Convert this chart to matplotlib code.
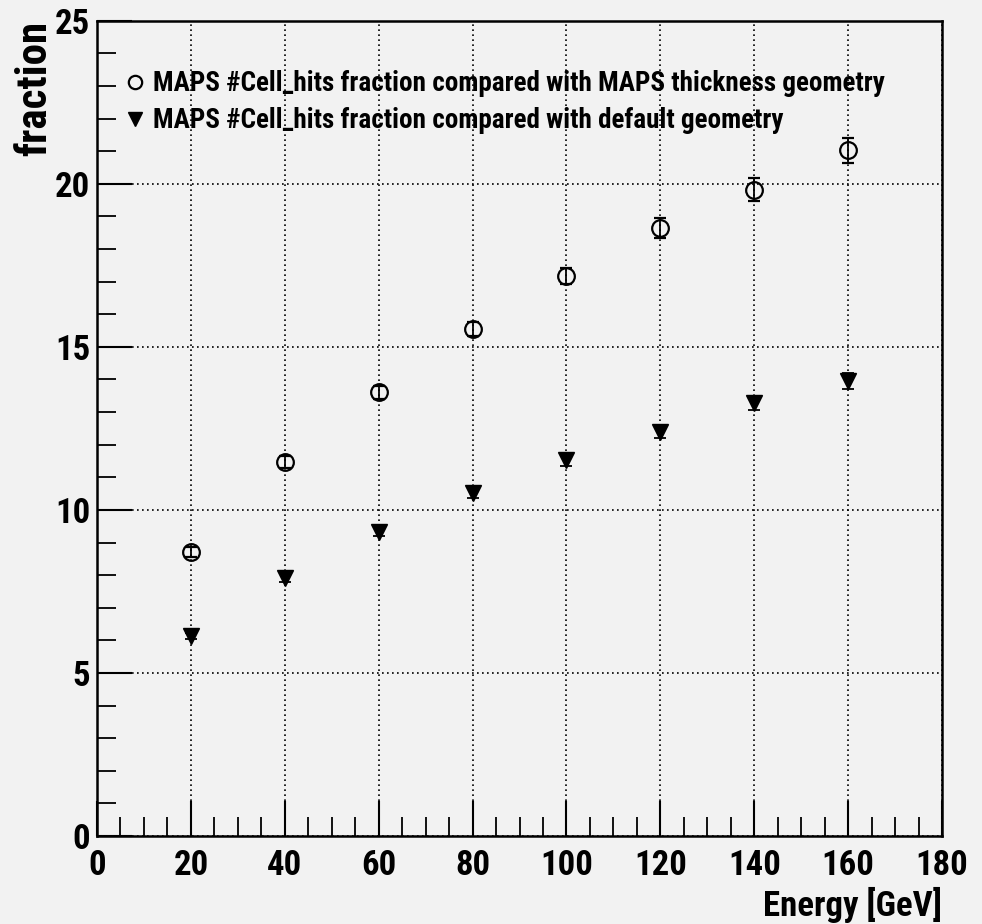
import matplotlib
matplotlib.use("Agg")
import matplotlib.pyplot as plt
from matplotlib.ticker import MultipleLocator

plt.rcParams['font.family'] = ['Roboto Condensed', 'PT Sans Narrow', 'Archivo Narrow', 'DejaVu Sans']
plt.rcParams['font.weight'] = 'bold'

energia = [20, 40, 60, 80, 100, 120, 140, 160]
frac_espessura = [8.70, 11.47, 13.60, 15.54, 17.17, 18.65, 19.82, 21.03]
erro_espessura = [0.15, 0.18, 0.2, 0.22, 0.25, 0.3, 0.35, 0.38]
frac_padrao = [6.14, 7.90, 9.33, 10.52, 11.53, 12.40, 13.27, 13.96]
erro_padrao = [0.1, 0.12, 0.14, 0.15, 0.17, 0.2, 0.22, 0.25]

rotulo_espessura = "MAPS #Cell_hits fraction compared with MAPS thickness geometry"
rotulo_padrao = "MAPS #Cell_hits fraction compared with default geometry"

fundo = "#f2f2f2"
fig = plt.figure(figsize=(9.82, 9.24), dpi=100, facecolor=fundo)
ax = fig.add_axes([0.0988, 0.0952, 0.8605, 0.8824])
ax.set_facecolor(fundo)

# pontos com barras de erro (círculo aberto = geometria com espessura, triângulo = padrão)
eb1 = ax.errorbar(energia, frac_espessura, yerr=erro_espessura, fmt="o", ms=12,
                  mfc="none", mec="black", mew=1.6, ecolor="black", elinewidth=1.3,
                  capsize=4, capthick=1.3)
eb2 = ax.errorbar(energia, frac_padrao, yerr=erro_padrao, fmt="v", ms=12,
                  mfc="black", mec="black", ecolor="black", elinewidth=1.3,
                  capsize=4, capthick=1.3)

ax.set_xlim(0, 180)
ax.set_ylim(0, 25)
ax.xaxis.set_major_locator(MultipleLocator(20))
ax.xaxis.set_minor_locator(MultipleLocator(5))
ax.yaxis.set_major_locator(MultipleLocator(5))
ax.yaxis.set_minor_locator(MultipleLocator(1))
ax.tick_params(which="major", direction="in", length=25, width=1.5, labelsize=25,
               top=False, right=False)
ax.tick_params(which="minor", direction="in", length=14, width=1.3,
               top=False, right=False)
ax.tick_params(axis="x", pad=9)
ax.tick_params(axis="y", pad=5)
for lab in ax.get_xticklabels() + ax.get_yticklabels():
    lab.set_fontweight("bold")

ax.grid(True, which="major", color="black", linestyle=(0, (1, 2)), linewidth=1.2)
for s in ax.spines.values():
    s.set_linewidth(1.8)

ax.set_xlabel("Energy [GeV]", fontsize=25, fontweight="bold", loc="right", labelpad=4)
ax.set_ylabel("fraction", fontsize=31, fontweight="bold", loc="top", labelpad=0)

leg = ax.legend(handles=[eb1[0], eb2[0]], labels=[rotulo_espessura, rotulo_padrao],
                loc="upper left", bbox_to_anchor=(0.0, 0.969), frameon=False,
                fontsize=19.5, handletextpad=0.15, labelspacing=0.36,
                handlelength=1.0, markerscale=0.8)
for t in leg.get_texts():
    t.set_fontweight("bold")

fig.savefig("out.png", dpi=100, facecolor=fundo)
